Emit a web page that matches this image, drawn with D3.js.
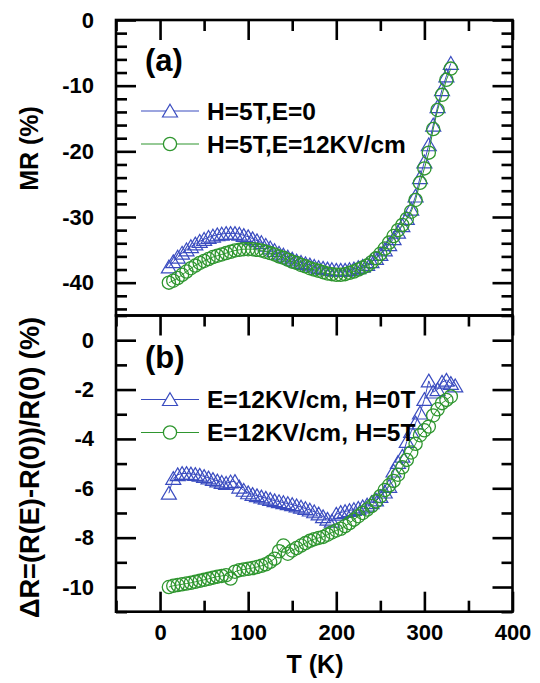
<!DOCTYPE html>
<html>
<head>
<meta charset="utf-8">
<script src="https://cdn.jsdelivr.net/npm/d3@7"></script>
<style>
  body { margin: 0; background: #fff; }
  svg text { font-family: "Liberation Sans", Arial, sans-serif; font-weight: bold; }
</style>
</head>
<body>
<svg id="chart" width="540" height="683"></svg>
<script>
// Temperature points (K)
const temps = [10,15,20,25,30,35,40,45,50,55,60,65,70,75,80,85,90,95,100,105,110,115,120,125,130,135,140,145,150,155,160,165,170,175,180,185,190,195,200,205,210,215,220,225,230,235,240,245,250,255,260,265,270,275,280,285,290,295,300,305,310,315,320,325,330];
const tempsE12H0 = [10,15,20,25,30,35,40,45,50,55,60,65,70,75,80,85,90,95,100,105,110,115,120,125,130,135,140,145,150,155,160,165,170,175,180,185,190,195,200,205,210,215,220,225,230,235,240,245,250,255,260,265,270,275,280,285,290,295,300,305,310,315,320,325,330,335];

// (a) magnetoresistance MR (%)
const mrH5E0 = [-37.6,-36.8,-36.1,-35.5,-35.0,-34.5,-34.1,-33.7,-33.4,-33.1,-32.9,-32.7,-32.6,-32.5,-32.5,-32.5,-32.6,-32.8,-33.0,-33.3,-33.6,-33.9,-34.3,-34.7,-35.1,-35.5,-35.8,-36.1,-36.4,-36.7,-36.9,-37.1,-37.3,-37.5,-37.7,-37.8,-37.9,-38.0,-38.1,-38.1,-38.1,-38.0,-37.9,-37.7,-37.5,-37.2,-36.8,-36.3,-35.7,-35.0,-34.2,-33.3,-32.3,-31.3,-30.2,-28.8,-26.8,-24.0,-21.6,-19.0,-16.0,-13.2,-10.6,-8.5,-6.6];
const mrH5E12 = [-40.0,-39.7,-39.3,-38.8,-38.3,-37.8,-37.4,-37.0,-36.7,-36.4,-36.1,-35.9,-35.7,-35.5,-35.3,-35.1,-35.0,-34.9,-34.9,-34.9,-35.0,-35.1,-35.3,-35.5,-35.7,-36.0,-36.2,-36.5,-36.8,-37.0,-37.3,-37.5,-37.8,-38.0,-38.2,-38.4,-38.6,-38.7,-38.8,-38.8,-38.7,-38.5,-38.3,-38.0,-37.7,-37.4,-36.9,-36.3,-35.6,-34.8,-33.9,-32.9,-32.0,-31.2,-30.3,-29.2,-27.4,-24.8,-22.6,-20.2,-16.6,-13.7,-11.4,-9.1,-7.4];

// (b) electroresistance dR (%)
const drE12H0 = [-6.20,-5.60,-5.45,-5.40,-5.40,-5.42,-5.44,-5.47,-5.52,-5.58,-5.64,-5.70,-5.76,-5.80,-5.74,-5.72,-5.95,-6.08,-6.18,-6.25,-6.30,-6.35,-6.40,-6.45,-6.50,-6.54,-6.58,-6.62,-6.66,-6.71,-6.76,-6.82,-6.88,-6.95,-7.04,-7.15,-7.25,-7.33,-7.05,-6.98,-6.94,-6.90,-6.86,-6.81,-6.75,-6.68,-6.58,-6.47,-6.33,-6.15,-5.92,-5.30,-4.95,-4.70,-4.10,-3.70,-3.35,-2.95,-2.40,-1.65,-2.10,-2.00,-1.70,-1.62,-1.75,-1.85];
const drE12H5 = [-10.0,-9.95,-9.92,-9.89,-9.86,-9.83,-9.79,-9.75,-9.71,-9.67,-9.62,-9.58,-9.55,-9.52,-9.66,-9.38,-9.32,-9.29,-9.26,-9.23,-9.19,-9.14,-9.08,-8.98,-8.85,-8.55,-8.32,-8.65,-8.52,-8.42,-8.32,-8.22,-8.13,-8.06,-8.01,-7.97,-7.88,-7.79,-7.71,-7.64,-7.53,-7.41,-7.27,-7.13,-7.00,-6.86,-6.72,-6.53,-6.32,-6.07,-5.88,-5.70,-5.45,-5.15,-4.85,-4.55,-4.20,-3.85,-3.65,-3.50,-3.05,-2.80,-2.55,-2.42,-2.28];

// Tick values
const xTicksMajor = [0,100,200,300,400];
const xTicksMinor = [-50,50,150,250,350];
const mrTicksMajor = [0,-10,-20,-30,-40];
const mrTicksMinor = [-2,-4,-6,-8,-12,-14,-16,-18,-22,-24,-26,-28,-32,-34,-36,-38,-42,-44];
const drTicksMajor = [0,-2,-4,-6,-8,-10];
const drTicksMinor = [1,-1,-3,-5,-7,-9,-11];

const legendA = ["H=5T,E=0", "H=5T,E=12KV/cm"];
const legendB = ["E=12KV/cm, H=0T", "E=12KV/cm, H=5T"];

const BLUE = "#3a4cc0";
const GREEN = "#2f962f";
const FRAME_W = 2.6;
const MAJOR = 20, MINOR = 11;

const svg = d3.select("#chart");

const x = d3.scaleLinear().domain([-50, 400]).range([116, 512.5]);
const yA = d3.scaleLinear().domain([-45, 0]).range([315.5, 20]);
const yB = d3.scaleLinear().domain([-11, 1]).range([611.7, 315.5]);

const triPath = "M0,-6.8L7.5,6L-7.5,6Z";

function styleAxis(g, size) {
  g.select(".domain").remove();
  g.attr("font-family", "Liberation Sans, Arial, sans-serif")
   .attr("font-size", size)
   .attr("font-weight", "bold");
  g.selectAll(".tick line").attr("stroke", "#000").attr("stroke-width", FRAME_W);
  g.selectAll(".tick text").attr("fill", "#000");
}

// open (hollow) symbols joined by a thin line
function drawSeries(g, xs, ys, yScale, color, shape) {
  const pts = xs.map((t, i) => [x(t), yScale(ys[i])]);
  g.append("path")
    .attr("d", d3.line()(pts))
    .attr("fill", "none")
    .attr("stroke", color)
    .attr("stroke-width", 1.0);
  const m = g.selectAll(null).data(pts).enter();
  if (shape === "tri") {
    m.append("path")
      .attr("d", triPath)
      .attr("transform", d => `translate(${d[0]},${d[1]})`)
      .attr("fill", "none")
      .attr("stroke", color)
      .attr("stroke-width", 1.2);
  } else {
    m.append("circle")
      .attr("cx", d => d[0]).attr("cy", d => d[1]).attr("r", 6.6)
      .attr("fill", "none")
      .attr("stroke", color)
      .attr("stroke-width", 1.3);
  }
}

function drawLegend(labels, ys) {
  const g = svg.append("g");
  const shapes = ["tri", "circ"];
  const colors = [BLUE, GREEN];
  labels.forEach((lab, i) => {
    const y = ys[i];
    g.append("line").attr("x1", 141).attr("x2", 199).attr("y1", y).attr("y2", y)
      .attr("stroke", colors[i]).attr("stroke-width", 1.2);
    if (shapes[i] === "tri") {
      g.append("path").attr("d", triPath).attr("transform", `translate(170,${y})`)
        .attr("fill", "#fff").attr("stroke", colors[i]).attr("stroke-width", 1.2);
    } else {
      g.append("circle").attr("cx", 170).attr("cy", y).attr("r", 6.6)
        .attr("fill", "#fff").attr("stroke", colors[i]).attr("stroke-width", 1.3);
    }
    g.append("text").attr("x", 207).attr("y", y + 8.7)
      .attr("font-size", 24.5).attr("fill", "#000").text(lab);
  });
}

function yAxes(yScale, major, minor) {
  svg.append("g").attr("transform", `translate(${x.range()[0]},0)`)
    .call(d3.axisLeft(yScale).tickValues(major).tickSize(-MAJOR).tickPadding(22).tickFormat(d => String(d)))
    .call(g => styleAxis(g, 22));
  svg.append("g").attr("transform", `translate(${x.range()[0]},0)`)
    .call(d3.axisLeft(yScale).tickValues(minor).tickSize(-MINOR).tickFormat(""))
    .call(g => styleAxis(g, 22));
  svg.append("g").attr("transform", `translate(${x.range()[1]},0)`)
    .call(d3.axisRight(yScale).tickValues(major).tickSize(-MAJOR).tickFormat(""))
    .call(g => styleAxis(g, 22));
  svg.append("g").attr("transform", `translate(${x.range()[1]},0)`)
    .call(d3.axisRight(yScale).tickValues(minor).tickSize(-MINOR).tickFormat(""))
    .call(g => styleAxis(g, 22));
}

function xTop(yPos) {
  svg.append("g").attr("transform", `translate(0,${yPos})`)
    .call(d3.axisTop(x).tickValues(xTicksMajor).tickSize(-MAJOR).tickFormat(""))
    .call(g => styleAxis(g, 22));
  svg.append("g").attr("transform", `translate(0,${yPos})`)
    .call(d3.axisTop(x).tickValues(xTicksMinor).tickSize(-MINOR).tickFormat(""))
    .call(g => styleAxis(g, 22));
}

// ---- panel (a)
const gA = svg.append("g");
drawSeries(gA, temps, mrH5E0, yA, BLUE, "tri");
drawSeries(gA, temps, mrH5E12, yA, GREEN, "circ");

// ---- panel (b)
const gB = svg.append("g");
drawSeries(gB, tempsE12H0, drE12H0, yB, BLUE, "tri");
drawSeries(gB, temps, drE12H5, yB, GREEN, "circ");

// axes and ticks
yAxes(yA, mrTicksMajor, mrTicksMinor);
yAxes(yB, drTicksMajor, drTicksMinor);
xTop(yA.range()[1]);
xTop(yB.range()[1]);

const yBot = yB.range()[0];
svg.append("g").attr("transform", `translate(0,${yBot})`)
  .call(d3.axisBottom(x).tickValues(xTicksMajor).tickSize(-MAJOR).tickPadding(12.7).tickFormat(d => String(d)))
  .call(g => styleAxis(g, 22));
svg.append("g").attr("transform", `translate(0,${yBot})`)
  .call(d3.axisBottom(x).tickValues(xTicksMinor).tickSize(-MINOR).tickFormat(""))
  .call(g => styleAxis(g, 22));

// frames
[[yA.range()[1], yA.range()[0]], [yB.range()[1], yB.range()[0]]].forEach(([t, b]) => {
  svg.append("rect")
    .attr("x", x.range()[0]).attr("y", t)
    .attr("width", x.range()[1] - x.range()[0]).attr("height", b - t)
    .attr("fill", "none").attr("stroke", "#000").attr("stroke-width", FRAME_W);
});

// legends and labels
drawLegend(legendA, [111, 144]);
drawLegend(legendB, [399.5, 432.5]);

svg.append("text").attr("x", 145).attr("y", 70.5).attr("font-size", 31).text("(a)");
svg.append("text").attr("x", 145).attr("y", 368).attr("font-size", 31).text("(b)");

svg.append("text")
  .attr("transform", "translate(38,148.5) rotate(-90)")
  .attr("text-anchor", "middle").attr("font-size", 25).text("MR (%)");
svg.append("text")
  .attr("transform", "translate(38.5,467.5) rotate(-90)")
  .attr("text-anchor", "middle").attr("font-size", 27.2).text("\u0394R=(R(E)-R(0))/R(0) (%)");
svg.append("text")
  .attr("x", 315).attr("y", 673)
  .attr("text-anchor", "middle").attr("font-size", 25).text("T (K)");
</script>
</body>
</html>
